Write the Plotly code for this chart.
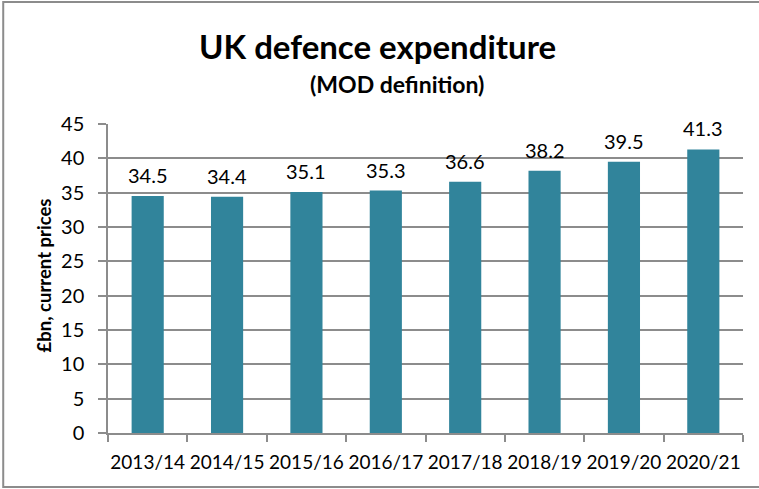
import plotly.graph_objects as go

years = ["2013/14", "2014/15", "2015/16", "2016/17", "2017/18", "2018/19", "2019/20", "2020/21"]
spend = [34.5, 34.4, 35.1, 35.3, 36.6, 38.2, 39.5, 41.3]
y_ticks = [0, 5, 10, 15, 20, 25, 30, 35, 40, 45]

FONT = "Lato"
BAR = "#31849B"
GRID = "#8C8C8C"
TXT = "#000000"

fig = go.Figure()
fig.add_trace(go.Bar(
    x=years, y=spend, width=0.405,
    marker=dict(color=BAR, line=dict(width=0)),
    hoverinfo="skip",
))

for cat, v in zip(years, spend):
    fig.add_annotation(x=cat, y=v, text=f"{v:.1f}", showarrow=False,
                       xref="x", yref="y", yanchor="middle", yshift=21,
                       font=dict(family=FONT, size=20, color=TXT))

fig.update_layout(
    width=759, height=489,
    margin=dict(l=108, r=16, t=124, b=56, autoexpand=False),
    paper_bgcolor="white", plot_bgcolor="white",
    showlegend=False,
    font=dict(family=FONT, color=TXT),
)

fig.add_annotation(text="<b>UK defence expenditure</b>", xref="paper", yref="paper",
                   x=0.425, y=1.252, xanchor="center", yanchor="middle", showarrow=False,
                   font=dict(family=FONT, size=33, color=TXT))
fig.add_annotation(text="<b>(MOD definition)</b>", xref="paper", yref="paper",
                   x=0.455, y=1.13, xanchor="center", yanchor="middle", showarrow=False,
                   font=dict(family=FONT, size=23, color=TXT))
fig.add_annotation(text="<b>£bn, current prices</b>", xref="paper", yref="paper",
                   x=-0.1008, y=0.51, xanchor="center", yanchor="middle", showarrow=False,
                   textangle=-90, font=dict(family=FONT, size=18.5, color=TXT))

fig.update_xaxes(
    type="category", tickson="boundaries", tickangle=0, automargin=False,
    showline=True, linecolor=GRID, linewidth=1.5,
    ticks="outside", ticklen=7, tickcolor=GRID, tickwidth=1.5,
    tickfont=dict(family=FONT, size=19, color=TXT),
    ticklabelstandoff=11,
    showgrid=False,
)
fig.update_yaxes(
    range=[0, 45], tickvals=y_ticks, automargin=False,
    showline=True, linecolor=GRID, linewidth=1.5,
    ticks="outside", ticklen=8, tickcolor=GRID, tickwidth=1.5,
    showgrid=True, gridcolor=GRID, gridwidth=1.5,
    zeroline=False,
    tickfont=dict(family=FONT, size=20, color=TXT),
    ticklabelstandoff=10,
)

fig.add_shape(type="rect", xref="paper", yref="paper",
              x0=-0.165, x1=1.03, y0=-0.175, y1=1.395,
              line=dict(color="#8C8C8C", width=2), layer="below")

fig.write_html("out.html")
